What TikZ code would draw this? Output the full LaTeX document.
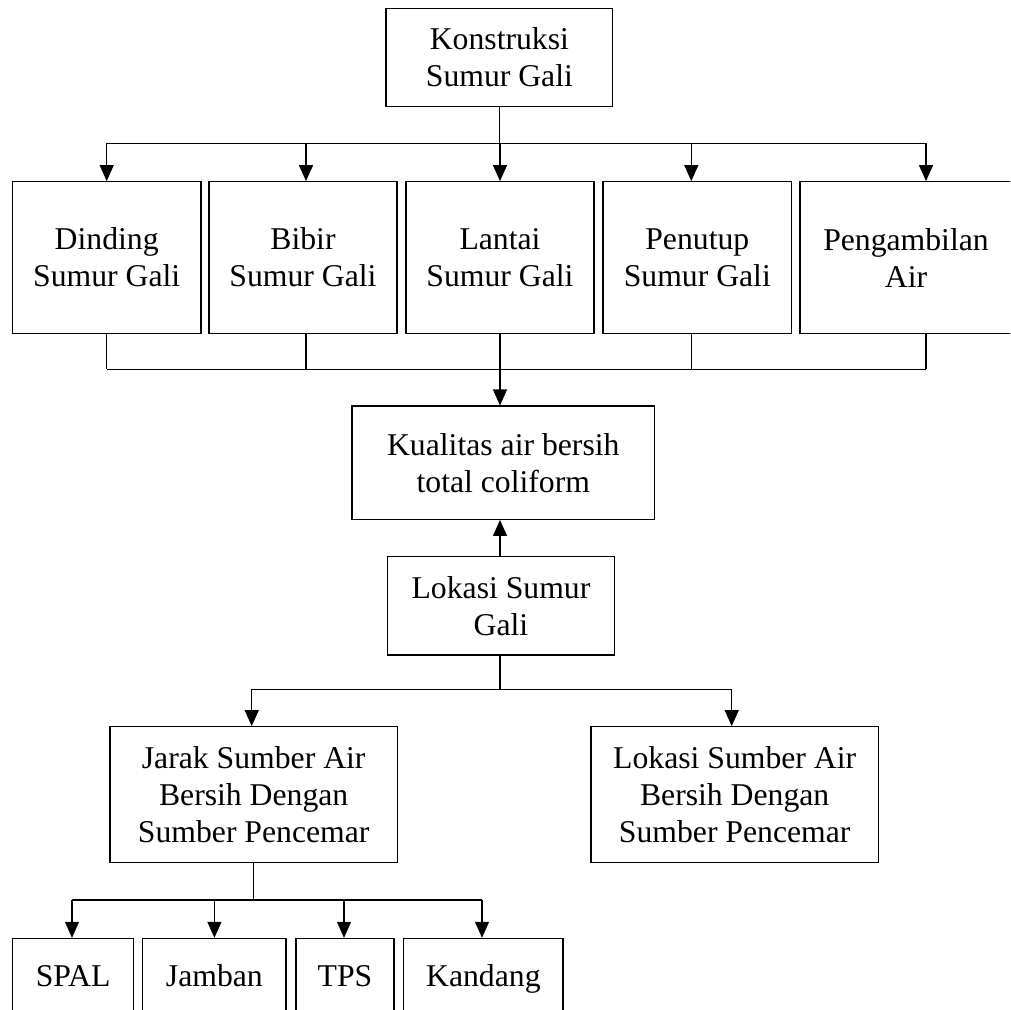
\documentclass[tikz,border=0pt]{standalone}
\usepackage{fontspec}
\setmainfont{Liberation Serif}
\usetikzlibrary{arrows.meta}
\begin{document}
\begin{tikzpicture}[x=1pt,y=-1pt,line width=1.2pt,
  font=\fontsize{31.7}{37}\selectfont,
  box/.style={draw,align=center,inner sep=0pt},
  leaf/.style={box,minimum height=82.6,text height=21,text depth=7},
  arr/.style={-{Triangle[length=16pt,width=14pt]}}]
\useasboundingbox (0,0) rectangle (1010,1010);
\clip (0,0) rectangle (1010,1010);
\node (kons) at (499.4,57.5) [box,minimum width=226.7,minimum height=98.4] {Konstruksi\\Sumur Gali};
\node (b1) at (106.7,257.5) [box,minimum width=188.7,minimum height=151.6] {Dinding\\Sumur Gali};
\node (b2) at (303,257.5) [box,minimum width=188,minimum height=151.6] {Bibir\\Sumur Gali};
\node (b3) at (500,257.5) [box,minimum width=188,minimum height=151.6] {Lantai\\Sumur Gali};
\node (b4) at (697.3,257.5) [box,minimum width=188.6,minimum height=151.6] {Penutup\\Sumur Gali};
\node (b5) at (906,257.5) [box,minimum width=212,minimum height=151.6] {Pengambilan\\Air};
\node (kual) at (503.3,462.7) [box,minimum width=302.7,minimum height=113.3] {Kualitas air bersih\\total coliform};
\node (lok) at (501,605.8) [box,minimum width=226.6,minimum height=98.3] {Lokasi Sumur\\Gali};
\node (jarak) at (253.7,794.7) [box,minimum width=287.3,minimum height=136] {Jarak Sumber Air\\Bersih Dengan\\Sumber Pencemar};
\node (loksb) at (734.7,794.5) [box,minimum width=287.3,minimum height=135.6] {Lokasi Sumber Air\\Bersih Dengan\\Sumber Pencemar};
\node (spal) at (73.1,979.7) [leaf,minimum width=121] {SPAL};
\node (jamban) at (214.4,979.7) [leaf,minimum width=143.3] {Jamban};
\node (tps) at (345,979.7) [leaf,minimum width=98] {TPS};
\node (kandang) at (483.4,979.7) [leaf,minimum width=159.3] {Kandang};
% konstruksi to the five parts
\coordinate (t1) at (106.7,143.3);
\coordinate (t5) at (926,143.3);
\draw (t1) -- (t5);
\draw (kons.south) -- (kons.south |- t1);
\draw[arr] (t1) -- (t1 |- b1.north);
\draw[arr] ([xshift=3]b2.north |- t1) -- ([xshift=3]b2.north);
\draw[arr] (b3.north |- t1) -- (b3.north);
\draw[arr] ([xshift=-6]b4.north |- t1) -- ([xshift=-6]b4.north);
\draw[arr] (t5) -- (t5 |- b5.north);
% five parts to kualitas
\coordinate (u1) at (106.7,369.3);
\coordinate (u5) at (926,369.3);
\draw (u1) -- (u5);
\draw (b1.south -| u1) -- (u1);
\draw ([xshift=3]b2.south) -- ([xshift=3]b2.south |- u1);
\draw (b3.south) -- (b3.south |- u1);
\draw ([xshift=-6]b4.south) -- ([xshift=-6]b4.south |- u1);
\draw (b5.south -| u5) -- (u5);
\draw[arr] (b3.south |- u1) -- (b3.south |- kual.north);
\draw[arr] (lok.north -| b3.south) -- (b3.south |- kual.south);
% lokasi sumur gali
\coordinate (v1) at (251.7,689.3);
\coordinate (v2) at (731.7,689.3);
\draw (v1) -- (v2);
\draw (lok.south -| b3.south) -- (b3.south |- v1);
\draw[arr] (v1) -- (v1 |- jarak.north);
\draw[arr] (v2) -- (v2 |- loksb.north);
% sumber pencemar
\coordinate (w1) at (72,900);
\coordinate (w4) at (482,900);
\draw (w1) -- (w4);
\draw (jarak.south) -- (jarak.south |- w1);
\draw[arr] (w1) -- (w1 |- spal.north);
\draw[arr] (jamban.north |- w1) -- (jamban.north);
\draw[arr] ([xshift=-1]tps.north |- w1) -- ([xshift=-1]tps.north);
\draw[arr] (w4) -- (w4 |- kandang.north);
\end{tikzpicture}
\end{document}
